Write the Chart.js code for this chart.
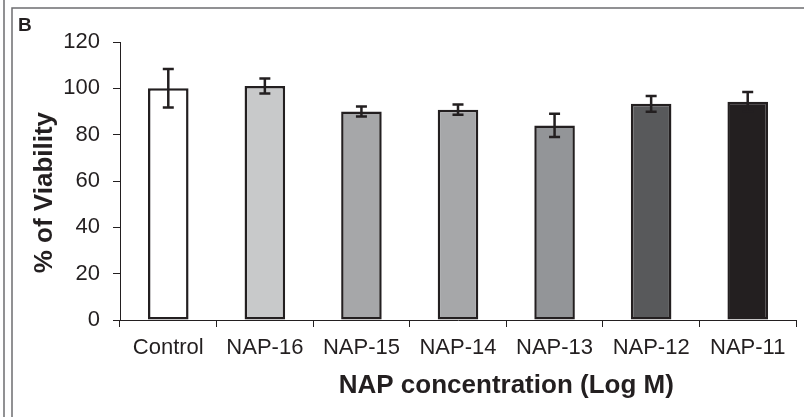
<!DOCTYPE html>
<html>
<head>
<meta charset="utf-8">
<script src="https://cdn.jsdelivr.net/npm/chart.js@4"></script>
<style>
  html, body { margin: 0; padding: 0; background: #fff; }
  #wrap { width: 804px; height: 417px; position: relative; }
</style>
</head>
<body>
<div id="wrap"><canvas id="c" width="804" height="417"></canvas></div>
<script>
// Cell viability after NAP treatment
const categories = ['Control', 'NAP-16', 'NAP-15', 'NAP-14', 'NAP-13', 'NAP-12', 'NAP-11'];
const viability = [100, 101, 90, 90.8, 84, 93.3, 94.2];
const viabilityErr = [8.3, 3.2, 2.2, 2.2, 5, 3.4, 4.2];
const barColors = ['#ffffff', '#c8c9ca', '#a6a7a9', '#a6a7a9', '#939598', '#58595b', '#231f20'];
const yTicks = [0, 20, 40, 60, 80, 100, 120];

const ink = '#231f20';
const FONT = '"Liberation Sans", Arial, sans-serif';

// Standard-deviation whiskers drawn on top of each bar
const errorBars = {
  id: 'errorBars',
  afterDatasetsDraw(chart) {
    const ctx = chart.ctx;
    const y = chart.scales.y;
    const meta = chart.getDatasetMeta(0);
    ctx.save();
    ctx.strokeStyle = ink;
    ctx.lineWidth = 2.5;
    meta.data.forEach((bar, i) => {
      const top = y.getPixelForValue(viability[i] + viabilityErr[i]);
      const bot = y.getPixelForValue(viability[i] - viabilityErr[i]);
      const cap = 5.5;
      ctx.beginPath();
      ctx.moveTo(bar.x, top); ctx.lineTo(bar.x, bot);
      ctx.moveTo(bar.x - cap, top); ctx.lineTo(bar.x + cap, top);
      ctx.moveTo(bar.x - cap, bot); ctx.lineTo(bar.x + cap, bot);
      ctx.stroke();
    });
    ctx.restore();
  }
};

// Panel frame, panel letter and axis titles
const panelDecor = {
  id: 'panelDecor',
  beforeDraw(chart) {
    const ctx = chart.ctx;
    ctx.save();
    ctx.strokeStyle = '#6d6e70';
    ctx.lineWidth = 1.5;
    ctx.beginPath();
    ctx.moveTo(4, 0); ctx.lineTo(4, 417);
    ctx.moveTo(12, 417); ctx.lineTo(12, 8); ctx.lineTo(804, 8);
    ctx.stroke();
    ctx.restore();
  },
  afterDraw(chart) {
    const ctx = chart.ctx;
    const x = chart.scales.x;
    const y = chart.scales.y;
    ctx.save();
    ctx.fillStyle = ink;
    ctx.font = 'bold 19px ' + FONT;
    ctx.textAlign = 'left';
    ctx.textBaseline = 'alphabetic';
    ctx.fillText('B', 18, 31);

    ctx.font = 'bold 26px ' + FONT;
    ctx.textAlign = 'center';
    ctx.textBaseline = 'middle';
    ctx.fillText('NAP concentration (Log M)', (x.getPixelForValue(3) + x.getPixelForValue(4)) / 2, 386);

    ctx.translate(45, y.getPixelForValue(55));
    ctx.rotate(-Math.PI / 2);
    ctx.fillText('% of Viability', 0, 0);
    ctx.restore();
  }
};

new Chart(document.getElementById('c'), {
  type: 'bar',
  data: {
    labels: categories,
    datasets: [{
      data: viability,
      backgroundColor: barColors,
      borderColor: ink,
      borderWidth: 2.5,
      borderSkipped: false,
      barPercentage: 0.42,
      categoryPercentage: 1.0
    }]
  },
  options: {
    responsive: false,
    animation: false,
    devicePixelRatio: 1,
    layout: { padding: { left: 0, right: 8, top: 42, bottom: 0 } },
    plugins: { legend: { display: false }, tooltip: { enabled: false } },
    scales: {
      x: {
        offset: true,
        grid: { display: true, offset: true, drawOnChartArea: false, drawTicks: true, tickLength: 7, color: ink, lineWidth: 1 },
        border: { display: true, color: ink, width: 1 },
        ticks: { color: ink, font: { family: FONT, size: 22 }, padding: 8, maxRotation: 0 },
        afterFit(scale) { scale.height = 97; }
      },
      y: {
        min: 0, max: 120,
        afterBuildTicks(scale) { scale.ticks = yTicks.map(v => ({ value: v })); },
        grid: { display: true, drawOnChartArea: false, drawTicks: true, tickLength: 7, color: ink, lineWidth: 1 },
        border: { display: true, color: ink, width: 1 },
        ticks: { color: ink, font: { family: FONT, size: 22 }, padding: 13 },
        afterFit(scale) { scale.width = 120; }
      }
    }
  },
  plugins: [errorBars, panelDecor]
});
</script>
</body>
</html>
